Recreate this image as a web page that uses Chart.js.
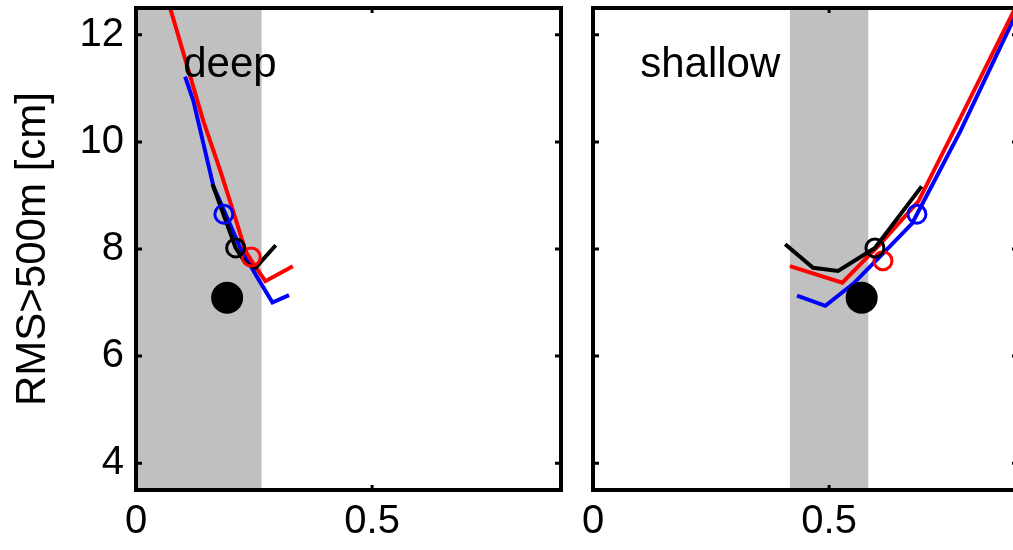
<!DOCTYPE html>
<html>
<head>
<meta charset="utf-8">
<script src="https://cdn.jsdelivr.net/npm/chart.js@4"></script>
<style>
  html, body { margin: 0; padding: 0; background: #fff; overflow: hidden; }
  #wrap { position: relative; width: 1013px; height: 550px; overflow: hidden; }
  #left { position: absolute; left: 0; top: 0; }
  #right { position: absolute; left: 580px; top: 0; }
</style>
</head>
<body>
<div id="wrap">
  <canvas id="left" width="580" height="550"></canvas>
  <canvas id="right" width="450" height="550"></canvas>
</div>
<script>
// axes
const xTicks = [0, 0.5];
const yTicks = [4, 6, 8, 10, 12];

// shaded ranges
const deepBand = [0, 0.266];
const shallowBand = [0.417, 0.583];

// deep panel
const deepBlueX = [0.104, 0.122, 0.164, 0.221, 0.257, 0.289, 0.324];
const deepBlueY = [11.22, 10.75, 9.17, 8.02, 7.47, 7.00, 7.14];
const deepRedX = [0.069, 0.143, 0.179, 0.211, 0.232, 0.249, 0.274, 0.332];
const deepRedY = [12.6, 10.38, 9.45, 8.56, 7.96, 7.72, 7.40, 7.68];
const deepBlackX = [0.162, 0.211, 0.232, 0.253, 0.296];
const deepBlackY = [9.21, 8.02, 7.74, 7.65, 8.07];
const deepCircles = { blue: [0.186, 8.65], red: [0.244, 7.85], black: [0.211, 8.02] };
const deepDot = [0.193, 7.09];

// shallow panel
const shallowBlueX = [0.432, 0.492, 0.551, 0.619, 0.676, 0.778, 0.890, 0.905];
const shallowBlueY = [7.13, 6.94, 7.35, 7.96, 8.48, 10.2, 12.28, 12.52];
const shallowRedX = [0.417, 0.528, 0.608, 0.689, 0.778, 0.888, 0.90];
const shallowRedY = [7.68, 7.37, 8.09, 8.89, 10.45, 12.39, 12.6];
const shallowBlackX = [0.407, 0.466, 0.519, 0.597, 0.696];
const shallowBlackY = [8.09, 7.65, 7.59, 8.02, 9.17];
const shallowCircles = { blue: [0.686, 8.65], red: [0.614, 7.78], black: [0.597, 8.02] };
const shallowDot = [0.569, 7.09];

const FONT = '"Liberation Sans", Arial, Helvetica, sans-serif';

function pts(xs, ys) {
  return xs.map((x, i) => ({ x: x, y: ys[i] }));
}

function curve(xs, ys, color) {
  return { data: pts(xs, ys), showLine: true, borderColor: color, borderWidth: 4,
           pointRadius: 0, fill: false, tension: 0 };
}

function circle(p, color) {
  return { data: [{ x: p[0], y: p[1] }], showLine: false, pointRadius: 9,
           pointBorderWidth: 3, pointBorderColor: color, pointBackgroundColor: 'rgba(0,0,0,0)' };
}

// gray band, frame, inward ticks and panel label
const panelDecor = {
  id: 'panelDecor',
  beforeDatasetsDraw(chart, args, opts) {
    const { ctx, chartArea: a, scales: { x } } = chart;
    const x0 = x.getPixelForValue(opts.band[0]);
    const x1 = x.getPixelForValue(opts.band[1]);
    ctx.save();
    ctx.fillStyle = '#c0c0c0';
    ctx.fillRect(x0, a.top, x1 - x0, a.bottom - a.top);
    ctx.restore();
  },
  afterDatasetsDraw(chart, args, opts) {
    const { ctx, chartArea: a, scales: { x, y } } = chart;
    ctx.save();
    ctx.fillStyle = '#000';
    ctx.font = '42px ' + FONT;
    ctx.textAlign = 'left';
    ctx.textBaseline = 'alphabetic';
    ctx.fillText(opts.label, x.getPixelForValue(0.1), y.getPixelForValue(11.22));

    ctx.strokeStyle = '#000';
    ctx.lineWidth = 3;
    ctx.beginPath();
    yTicks.forEach(v => {
      const p = y.getPixelForValue(v);
      ctx.moveTo(a.left, p); ctx.lineTo(a.left + 6, p);
      ctx.moveTo(a.right - 6, p); ctx.lineTo(a.right, p);
    });
    xTicks.forEach(v => {
      const p = x.getPixelForValue(v);
      ctx.moveTo(p, a.bottom); ctx.lineTo(p, a.bottom - 5);
      ctx.moveTo(p, a.top); ctx.lineTo(p, a.top + 5);
    });
    ctx.stroke();

    ctx.lineWidth = 4;
    ctx.strokeRect(a.left, a.top, a.right - a.left, a.bottom - a.top);
    ctx.restore();
  }
};

function noPad(s) {
  s.paddingTop = 0; s.paddingBottom = 0; s.paddingLeft = 0; s.paddingRight = 0;
}

function makePanel(id, opt) {
  return new Chart(document.getElementById(id), {
    type: 'scatter',
    data: {
      datasets: [
        { data: [{ x: opt.dot[0], y: opt.dot[1] }], pointRadius: 15, pointBorderWidth: 2,
          pointBackgroundColor: '#000', pointBorderColor: '#000' },
        circle(opt.circles.black, '#000'),
        circle(opt.circles.red, '#ff0000'),
        circle(opt.circles.blue, '#0000ff'),
        curve(opt.blackX, opt.blackY, '#000'),
        curve(opt.redX, opt.redY, '#ff0000'),
        curve(opt.blueX, opt.blueY, '#0000ff')
      ]
    },
    options: {
      responsive: false,
      animation: false,
      devicePixelRatio: 1,
      events: [],
      layout: { autoPadding: false, padding: { top: 8, right: opt.padRight, left: 0, bottom: 0 } },
      plugins: {
        legend: { display: false },
        tooltip: { enabled: false },
        panelDecor: { band: opt.band, label: opt.label }
      },
      scales: {
        x: {
          type: 'linear', min: 0, max: 0.9,
          afterBuildTicks: s => { s.ticks = xTicks.map(v => ({ value: v })); },
          afterFit: s => { s.height = 60; noPad(s); },
          grid: { display: false, drawTicks: false },
          border: { display: false },
          ticks: { color: '#000', font: { size: 40, family: FONT }, padding: 8, maxRotation: 0,
                   callback: v => String(v) }
        },
        y: {
          type: 'linear', min: 3.5, max: 12.5,
          afterBuildTicks: s => { s.ticks = yTicks.map(v => ({ value: v })); },
          afterFit: s => { s.width = opt.yWidth; noPad(s); },
          grid: { display: false, drawTicks: false },
          border: { display: false },
          ticks: { display: opt.yLabels, color: '#000', font: { size: 40, family: FONT }, padding: 12 },
          title: { display: opt.yLabels, text: 'RMS>500m [cm]', color: '#000',
                   font: { size: 42, family: FONT }, padding: { top: 8, bottom: 0 } }
        }
      }
    },
    plugins: [panelDecor]
  });
}

makePanel('left', {
  label: 'deep', band: deepBand, yWidth: 136, yLabels: true, padRight: 19,
  blueX: deepBlueX, blueY: deepBlueY, redX: deepRedX, redY: deepRedY,
  blackX: deepBlackX, blackY: deepBlackY, circles: deepCircles, dot: deepDot
});

makePanel('right', {
  label: 'shallow', band: shallowBand, yWidth: 13, yLabels: false, padRight: 12,
  blueX: shallowBlueX, blueY: shallowBlueY, redX: shallowRedX, redY: shallowRedY,
  blackX: shallowBlackX, blackY: shallowBlackY, circles: shallowCircles, dot: shallowDot
});
</script>
</body>
</html>
